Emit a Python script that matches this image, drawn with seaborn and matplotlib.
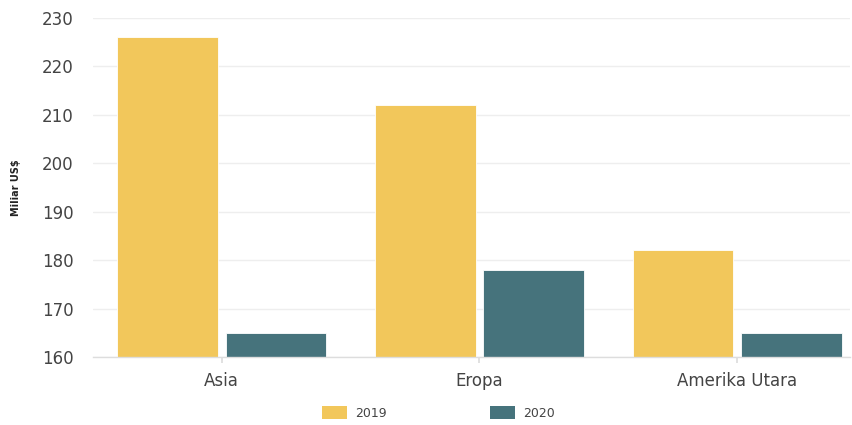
import matplotlib
matplotlib.use("Agg")
import matplotlib.pyplot as plt
import seaborn as sns
import pandas as pd
from matplotlib.patches import Patch

categories = ["Asia", "Eropa", "Amerika Utara"]
series_names = ["2019", "2020"]
values_2019 = [226, 212, 182]
values_2020 = [165, 178, 165]
y_ticks = [160, 170, 180, 190, 200, 210, 220, 230]
y_label = "Miliar US$"
colors = ["#F2C75B", "#46737C"]

df = pd.DataFrame({
    "Wilayah": categories * 2,
    "Tahun": [series_names[0]] * 3 + [series_names[1]] * 3,
    "Nilai": values_2019 + values_2020,
})

sns.set_theme(style="white")
plt.rcParams["font.family"] = ["DejaVu Sans"]

fig = plt.figure(figsize=(8.53, 4.25), dpi=100)
ax = fig.add_axes([0.109, 0.16, 0.888, 0.798])

sns.barplot(data=df, x="Wilayah", y="Nilai", hue="Tahun", order=categories,
            hue_order=series_names, palette=colors, width=0.84, gap=0.07,
            ax=ax, legend=False, saturation=1, edgecolor="#ffffff", linewidth=0.6)

ax.set_ylim(160, 230)
ax.set_yticks(y_ticks)
ax.set_xlim(-0.5, 2.44)
ax.yaxis.grid(True, color="#eeeeee", linewidth=1)
ax.set_axisbelow(True)
for s in ["top", "right", "left"]:
    ax.spines[s].set_visible(False)
ax.spines["bottom"].set_color("#dddddd")
ax.spines["bottom"].set_linewidth(1)
ax.tick_params(axis="y", length=0, labelsize=12, labelcolor="#444444", pad=14)
ax.tick_params(axis="x", length=4, color="#dddddd", labelsize=12, labelcolor="#444444", pad=7, bottom=True)
ax.set_xlabel("")
ax.set_ylabel(y_label, fontsize=7, fontweight="bold", color="#222222", labelpad=15)

handles = [Patch(facecolor=c, edgecolor="none") for c in colors]
fig.legend(handles, series_names, loc="lower center", bbox_to_anchor=(0.514, -0.014),
           ncol=2, frameon=False, fontsize=9, handlelength=2.0, handleheight=1.3,
           columnspacing=8.3, handletextpad=0.6, labelcolor="#444444")

fig.savefig("out.png", dpi=100)
